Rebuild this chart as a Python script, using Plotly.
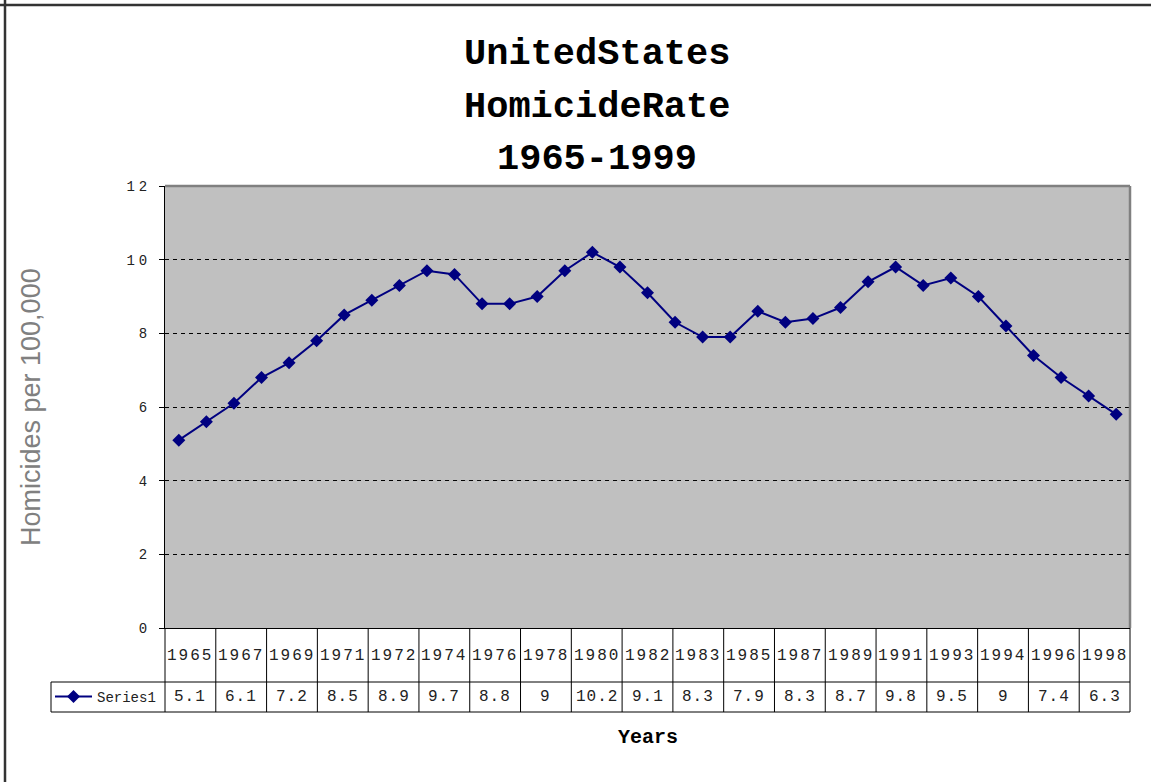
import plotly.graph_objects as go

# ---------------- data ----------------
years = list(range(1965, 2000))
rates = [5.1, 5.6, 6.1, 6.8, 7.2, 7.8, 8.5, 8.9, 9.3, 9.7,
         9.6, 8.8, 8.8, 9.0, 9.7, 10.2, 9.8, 9.1, 8.3, 7.9,
         7.9, 8.6, 8.3, 8.4, 8.7, 9.4, 9.8, 9.3, 9.5, 9.0,
         8.2, 7.4, 6.8, 6.3, 5.8]
table_years = [1965, 1967, 1969, 1971, 1972, 1974, 1976, 1978, 1980, 1982,
               1983, 1985, 1987, 1989, 1991, 1993, 1994, 1996, 1998]
series_name = "Series1"
title_lines = ["UnitedStates", "HomicideRate", "1965-1999"]
y_ticks = [0, 2, 4, 6, 8, 10, 12]

# ---------------- layout geometry (page pixels) ----------------
W, H = 1151, 782          # browser window (body margin removed below)
L, R, T, B = 165, 1130, 186, 628   # plot area in page pixels
pw, ph = R - L, B - T


def px(x):
    return (x - L) / pw


def py(y):
    return (B - y) / ph


MONO = "Liberation Mono, Courier New, monospace"
SANS = "Liberation Sans, Arial, sans-serif"
TXT = "#222222"
NAVY = "#000080"

fig = go.Figure()
fig.add_trace(go.Scatter(
    x=years, y=rates, name=series_name, mode="lines+markers",
    line=dict(color=NAVY, width=2),
    marker=dict(symbol="diamond", size=10, color=NAVY),
    hoverinfo="skip", showlegend=True,
))


def spaced(t, ls):
    return f'<span style="letter-spacing:{ls}px">{t}</span>'


annotations = []
# title lines
for txt, yc in zip(title_lines, [54, 107, 159]):
    annotations.append(dict(
        text=txt, x=px(597), y=py(yc), xref="paper", yref="paper",
        xanchor="center", yanchor="middle", showarrow=False,
        font=dict(family=MONO, size=37, color="black", weight="bold")))

# y axis title
annotations.append(dict(
    text="Homicides per 100,000", x=px(31), y=py(407), xref="paper", yref="paper",
    xanchor="center", yanchor="middle", showarrow=False, textangle=-90,
    font=dict(family=SANS, size=27, color="#808080")))

# x axis title
annotations.append(dict(
    text="Years", x=px(648), y=py(737), xref="paper", yref="paper",
    xanchor="center", yanchor="middle", showarrow=False,
    font=dict(family=MONO, size=20, color="black", weight="bold")))

# data table
n = len(table_years)
row1_top, row1_bot, row2_bot = B, 682, 712
legend_left = 51
for i, yr in enumerate(table_years):
    val = rates[years.index(yr)]
    xc = (i + 0.5) / n
    annotations.append(dict(
        text=spaced(str(yr), 2), x=xc, y=py(656), xref="paper", yref="paper",
        xanchor="center", yanchor="middle", showarrow=False,
        font=dict(family=MONO, size=16, color=TXT)))
    annotations.append(dict(
        text=spaced(f"{val:g}", 1), x=xc, y=py(697), xref="paper", yref="paper",
        xanchor="center", yanchor="middle", showarrow=False,
        font=dict(family=MONO, size=16, color=TXT)))

shapes = []
line_k = dict(color="black", width=1)
for i in range(n + 1):
    shapes.append(dict(type="line", xref="paper", yref="paper",
                       x0=i / n, x1=i / n, y0=py(row1_top), y1=py(row2_bot),
                       line=line_k))
for yy in (row1_bot, row2_bot):
    shapes.append(dict(type="line", xref="paper", yref="paper",
                       x0=px(legend_left), x1=1, y0=py(yy), y1=py(yy),
                       line=line_k))
shapes.append(dict(type="line", xref="paper", yref="paper",
                   x0=px(legend_left), x1=px(legend_left),
                   y0=py(row1_bot), y1=py(row2_bot), line=line_k))
# plot frame: grey top & right
shapes.append(dict(type="line", xref="paper", yref="paper", x0=0, x1=1, y0=1, y1=1,
                   line=dict(color="#808080", width=2.5)))
shapes.append(dict(type="line", xref="paper", yref="paper", x0=1, x1=1, y0=0, y1=1,
                   line=dict(color="#808080", width=2.5)))
# outer page frame (top & left)
shapes.append(dict(type="line", xref="paper", yref="paper",
                   x0=px(0), x1=px(W + 20), y0=py(5), y1=py(5),
                   line=dict(color="#333333", width=2.5)))
shapes.append(dict(type="line", xref="paper", yref="paper",
                   x0=px(5), x1=px(5), y0=py(0), y1=py(H + 20),
                   line=dict(color="#333333", width=2.5)))

fig.update_layout(
    width=W, height=H,
    margin=dict(l=L, r=W - R, t=T, b=H - B, pad=0),
    paper_bgcolor="white", plot_bgcolor="#C0C0C0",
    showlegend=True,
    legend=dict(x=px(50), y=py(697), xanchor="left", yanchor="middle",
                xref="paper", yref="paper", bgcolor="rgba(0,0,0,0)",
                borderwidth=0, font=dict(family=MONO, size=14, color=TXT),
                itemwidth=37),
    annotations=annotations, shapes=shapes,
    xaxis=dict(range=[years[0] - 0.5, years[-1] + 0.5], showticklabels=False,
               ticks="", showgrid=False, zeroline=False, showline=True,
               linecolor="black", linewidth=1, fixedrange=True),
    yaxis=dict(range=[0, 12], tickvals=y_ticks,
               ticktext=[spaced(str(v), 4) for v in y_ticks],
               ticks="outside", ticklen=5, tickcolor="black", tickwidth=1,
               ticklabelstandoff=5,
               tickfont=dict(family=MONO, size=14, color=TXT),
               showgrid=True, gridcolor="black", gridwidth=1, griddash="4px,4px",
               zeroline=False, showline=True, linecolor="black", linewidth=1,
               fixedrange=True),
)

fig.write_html(
    "out.html",
    config={"displayModeBar": False, "staticPlot": False},
    post_script="document.body.style.margin='0';document.body.style.overflow='hidden';",
)
